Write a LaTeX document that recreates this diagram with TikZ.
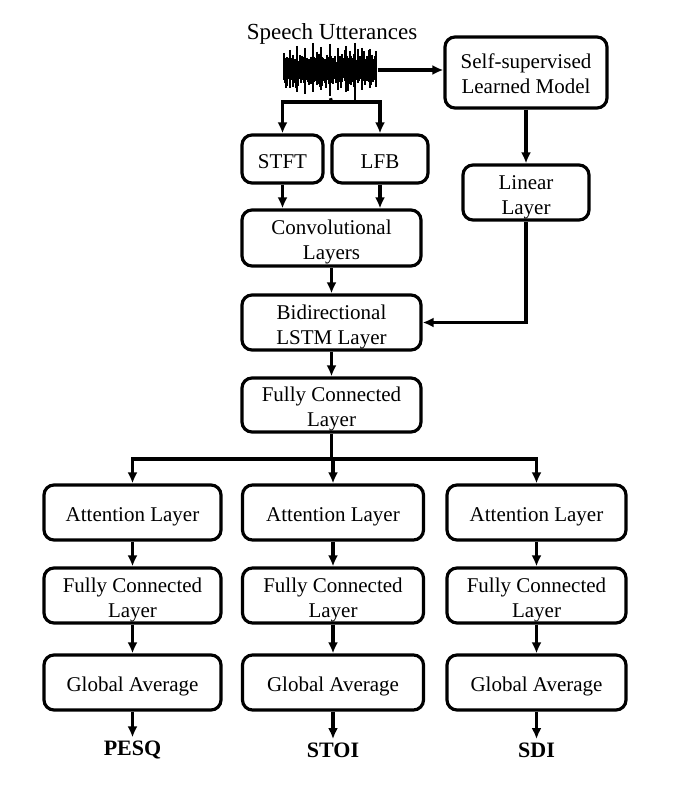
\documentclass[tikz,border=0pt]{standalone}
\usepackage{fontspec}
\setmainfont{LiberationSerif-Regular.ttf}[BoldFont=LiberationSerif-Bold.ttf]
\usetikzlibrary{arrows.meta}
\newcommand\blocktext[1]{\raisebox{-4pt}[\height][\depth]{\begin{tabular}{@{}c@{}}#1\end{tabular}}}
\tikzset{
  block/.style={draw,line width=3.2pt,rounded corners=10pt,inner sep=0pt,
    font=\fontsize{21}{25}\selectfont},
  conn/.style={line width=3.2pt},
  arr/.style={conn,-{Latex[length=11pt,width=10pt]}},
  score/.style={font=\fontsize{22}{26}\selectfont\bfseries}
}
\begin{document}
\begin{tikzpicture}[x=1pt,y=-1pt]
  \useasboundingbox (0,0) rectangle (681,789);
  % input signal
  \node[font=\fontsize{23}{26}\selectfont] (title) at (332,34) {Speech Utterances};
  \node[minimum width=94pt,minimum height=56pt,inner sep=0pt] (wave) at (330.5,70) {};
  \pgfmathsetseed{11}
  \foreach \i in {0,...,92}{
    \pgfmathsetmacro\up{7+14*rnd*rnd+4*rnd}
    \pgfmathsetmacro\dn{7+14*rnd*rnd+4*rnd}
    \draw[line width=1.1pt] (284+\i,70-\up) -- (284+\i,70+\dn);
  }
  \foreach \x/\a/\b in {290/20/18,297/24/22,305/22/19,313/27/22,321/23/20,330/26/26,338/22/20,346/24/22,355/27/30,362/22/20,370/21/18}
    \draw[line width=1.1pt] (\x,70-\a) -- (\x,70+\b);
  \draw[line width=1.2pt] (284,70) -- (377,70);
  % blocks
  \node[block,minimum width=162pt,minimum height=71pt] (ssl) at (526,72.5) {\blocktext{Self-supervised\\Learned Model}};
  \node[block,minimum width=81pt,minimum height=48pt] (stft) at (282.5,159) {\blocktext{STFT}};
  \node[block,minimum width=96pt,minimum height=48pt] (lfb) at (380,159) {\blocktext{LFB}};
  \node[block,minimum width=126pt,minimum height=55pt] (lin) at (526,192.5) {\blocktext{Linear\\Layer}};
  \node[block,minimum width=179pt,minimum height=56pt] (conv) at (331.5,238) {\blocktext{Convolutional\\Layers}};
  \node[block,minimum width=179pt,minimum height=55pt] (lstm) at (331.5,322.5) {\blocktext{Bidirectional\\LSTM Layer}};
  \node[block,minimum width=179pt,minimum height=54pt] (fc) at (331.5,405) {\blocktext{Fully Connected\\Layer}};
  % three heads
  \foreach \n/\x/\w/\s in {1/132.5/177/PESQ,2/333/181/STOI,3/536.5/179/SDI}{
    \node[block,minimum width=\w pt,minimum height=55pt] (att\n) at (\x,512.5) {\blocktext{Attention Layer}};
    \node[block,minimum width=\w pt,minimum height=55pt] (fc\n) at (\x,595.5) {\blocktext{Fully Connected\\Layer}};
    \node[block,minimum width=\w pt,minimum height=55pt] (ga\n) at (\x,682.5) {\blocktext{Global Average}};
    \node[score] (out\n) at (\x,750) {\s};
    \draw[arr] (att\n) -- (fc\n);
    \draw[arr] (fc\n) -- (ga\n);
    \draw[arr] (ga\n) -- (out\n);
  }
  % connectors
  \coordinate (split) at (331.5,102);
  \coordinate (fork) at (331.5,459);
  \draw[arr] (wave.east) -- (wave.east -| ssl.west);
  \draw[conn] (wave.south) -- (split);
  \draw[arr] (split) -| (stft.north);
  \draw[arr] (split) -| (lfb.north);
  \draw[arr] (stft) -- (stft |- conv.north);
  \draw[arr] (lfb) -- (lfb |- conv.north);
  \draw[arr] (conv) -- (lstm);
  \draw[arr] (ssl) -- (lin);
  \draw[arr] (lin.south) |- (lstm.east);
  \draw[arr] (lstm) -- (fc);
  \draw[conn] (fc.south) -- (fork);
  \draw[arr] (fork) -| (att1.north);
  \draw[arr] (fork) -| (att2.north);
  \draw[arr] (fork) -| (att3.north);
\end{tikzpicture}
\end{document}
